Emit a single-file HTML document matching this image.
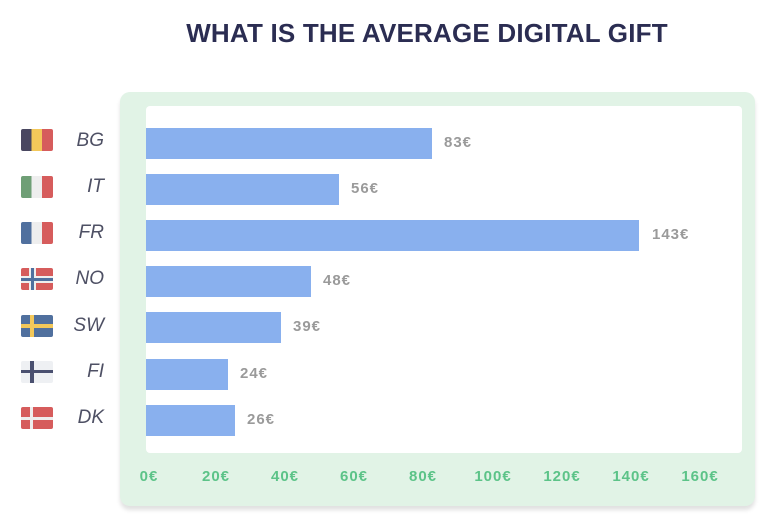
<!DOCTYPE html>
<html><head><meta charset="utf-8"><style>
*{margin:0;padding:0;box-sizing:border-box}
body{width:772px;height:521px;background:#fff;position:relative;overflow:hidden;font-family:"Liberation Sans",sans-serif}
.t{position:absolute;left:0;width:854px;top:18px;text-align:center;font-weight:bold;font-size:26px;color:#2b2d52;letter-spacing:0.2px}
.panel{position:absolute;left:120px;top:92px;width:635px;height:414px;background:#e1f3e6;border-radius:10px;box-shadow:0 4px 4px rgba(0,0,0,0.12)}
.inner{position:absolute;left:146px;top:106px;width:596px;height:347px;background:#fff;border-radius:4px}
.bar{position:absolute;left:146px;height:31px;background:#89b0ee}
.v{position:absolute;font-size:15px;font-weight:bold;color:#9a9a9a;letter-spacing:1px}
.lab{position:absolute;left:60px;width:44px;text-align:right;font-style:italic;font-size:19px;color:#4e5064}
.flag{position:absolute;left:21px;width:32px;height:22px;border-radius:2px;overflow:hidden}
.ax{position:absolute;top:468px;font-size:15px;font-weight:bold;color:#5cc388;letter-spacing:1px;width:60px;text-align:center}
</style></head><body>
<div class="t">WHAT IS THE AVERAGE DIGITAL GIFT</div>
<div class="panel"></div>
<div class="inner"></div>

<div class="flag" style="top:129px;background:linear-gradient(90deg,#4a4760 33%,#f3c85a 33% 66%,#d65c5c 66%)"></div>
<div class="flag" style="top:176px;background:linear-gradient(90deg,#6f9f76 33%,#eeeeee 33% 66%,#d65c5c 66%)"></div>
<div class="flag" style="top:222px;background:linear-gradient(90deg,#50709e 33%,#eeeeee 33% 66%,#d65c5c 66%)"></div>
<div class="flag" style="top:268px;background:#d65c5c"><div style="position:absolute;left:8px;top:0;width:7px;height:22px;background:#eee"></div><div style="position:absolute;left:0;top:7.5px;width:32px;height:7px;background:#eee"></div><div style="position:absolute;left:10px;top:0;width:3px;height:22px;background:#50709e"></div><div style="position:absolute;left:0;top:9.5px;width:32px;height:3px;background:#50709e"></div></div>
<div class="flag" style="top:315px;background:#50709e"><div style="position:absolute;left:9px;top:0;width:4px;height:22px;background:#f3c85a"></div><div style="position:absolute;left:0;top:9px;width:32px;height:4px;background:#f3c85a"></div></div>
<div class="flag" style="top:361px;background:#eef0f3"><div style="position:absolute;left:9px;top:0;width:4px;height:22px;background:#4a5070"></div><div style="position:absolute;left:0;top:9px;width:32px;height:3px;background:#4a5070"></div></div>
<div class="flag" style="top:407px;background:#d65c5c"><div style="position:absolute;left:9px;top:0;width:3px;height:22px;background:#eee"></div><div style="position:absolute;left:0;top:9.5px;width:32px;height:3px;background:#eee"></div></div>

<div class="lab" style="top:130px">BG</div>
<div class="lab" style="top:176px">IT</div>
<div class="lab" style="top:222px">FR</div>
<div class="lab" style="top:268px">NO</div>
<div class="lab" style="top:315px">SW</div>
<div class="lab" style="top:361px">FI</div>
<div class="lab" style="top:407px">DK</div>

<div class="bar" style="top:128px;width:286px"></div><div class="v" style="left:444px;top:134px">83€</div>
<div class="bar" style="top:174px;width:193px"></div><div class="v" style="left:351px;top:180px">56€</div>
<div class="bar" style="top:220px;width:493px"></div><div class="v" style="left:652px;top:226px">143€</div>
<div class="bar" style="top:266px;width:165px"></div><div class="v" style="left:323px;top:272px">48€</div>
<div class="bar" style="top:312px;width:135px"></div><div class="v" style="left:293px;top:318px">39€</div>
<div class="bar" style="top:359px;width:82px"></div><div class="v" style="left:240px;top:365px">24€</div>
<div class="bar" style="top:405px;width:89px"></div><div class="v" style="left:247px;top:411px">26€</div>

<div class="ax" style="left:119px">0€</div>
<div class="ax" style="left:186px">20€</div>
<div class="ax" style="left:255px">40€</div>
<div class="ax" style="left:324px">60€</div>
<div class="ax" style="left:393px">80€</div>
<div class="ax" style="left:463px">100€</div>
<div class="ax" style="left:532px">120€</div>
<div class="ax" style="left:601px">140€</div>
<div class="ax" style="left:670px">160€</div>
</body></html>
